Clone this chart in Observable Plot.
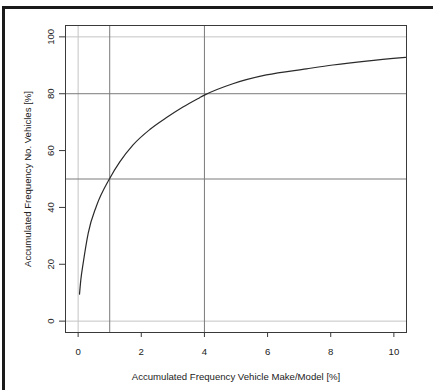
<!DOCTYPE html>
<html>
<head>
<meta charset="utf-8">
<script src="https://cdn.jsdelivr.net/npm/d3@7"></script>
<script src="https://cdn.jsdelivr.net/npm/@observablehq/plot@0.6"></script>
<style>
  html, body { margin: 0; padding: 0; background: white; }
  #wrap { position: relative; width: 433px; height: 390px; overflow: hidden; }
  #border { position: absolute; left: 2px; top: 6px; width: 500px; height: 500px;
            border-left: 3px solid #1a1a1a; border-top: 3px solid #1a1a1a; pointer-events: none; }
</style>
</head>
<body>
<div id="wrap"><div id="chart"></div><div id="border"></div></div>
<script>
// Accumulated frequency of vehicle make/model [%]
const makeModelPct = [0.044, 0.085, 0.16, 0.32, 0.58, 1.0, 1.32, 1.74, 2.27, 2.8, 3.32, 3.85, 4.0, 4.9, 5.96, 7.23, 8.07, 9.13, 10.37];
// Accumulated frequency of number of vehicles [%]
const vehiclesPct  = [9.5, 14.5, 20.4, 31, 40.5, 50.2, 56.0, 62.0, 67.4, 71.6, 75.3, 78.6, 79.5, 83.5, 86.6, 88.75, 90.1, 91.5, 92.8];

const xTicks = [0, 2, 4, 6, 8, 10];
const yTicks = [0, 20, 40, 60, 80, 100];
const lightVLines = [0];
const darkVLines = [1, 4];
const lightHLines = [0, 100];
const darkHLines = [50, 80];
const xTitle = "Accumulated Frequency Vehicle Make/Model [%]";
const yTitle = "Accumulated Frequency No. Vehicles [%]";

const curve = makeModelPct.map((x, i) => ({x, y: vehiclesPct[i]}));

const chart = Plot.plot({
  width: 433,
  height: 390,
  marginLeft: 65,
  marginRight: 27,
  marginTop: 25,
  marginBottom: 58,
  style: {fontFamily: "'Liberation Sans', Arial, sans-serif", fontSize: "9.6px", background: "white", color: "#222"},
  x: {domain: [-0.4, 10.4]},
  y: {domain: [-4, 104]},
  marks: [
    Plot.ruleX(lightVLines, {stroke: "#c4c4c4", strokeWidth: 1}),
    Plot.ruleY(lightHLines, {stroke: "#c4c4c4", strokeWidth: 1}),
    Plot.ruleX(darkVLines, {stroke: "#7a7a7a", strokeWidth: 1}),
    Plot.ruleY(darkHLines, {stroke: "#7a7a7a", strokeWidth: 1}),
    Plot.line(curve, {x: "x", y: "y", stroke: "#2a2a2a", strokeWidth: 1.2, curve: "monotone-x"}),
    Plot.frame({stroke: "#3a3a3a"}),
    Plot.axisX({ticks: xTicks, tickSize: 5, tickPadding: 11, stroke: "#3a3a3a", label: null}),
    Plot.axisY({ticks: yTicks, tickSize: 6, tickFormat: () => "", stroke: "#3a3a3a", label: null}),
    Plot.text(yTicks, {y: d => d, text: d => String(d), frameAnchor: "left", dx: -12, rotate: -90,
                       textAnchor: "middle", lineAnchor: "bottom", fill: "#222"}),
    Plot.text([xTitle], {text: d => d, frameAnchor: "bottom", dy: 47, lineAnchor: "bottom", fill: "#222"}),
    Plot.text([yTitle], {text: d => d, frameAnchor: "left", dx: -34.3, rotate: -90,
                         textAnchor: "middle", lineAnchor: "bottom", fill: "#222"})
  ]
});
document.getElementById("chart").appendChild(chart);
</script>
</body>
</html>
